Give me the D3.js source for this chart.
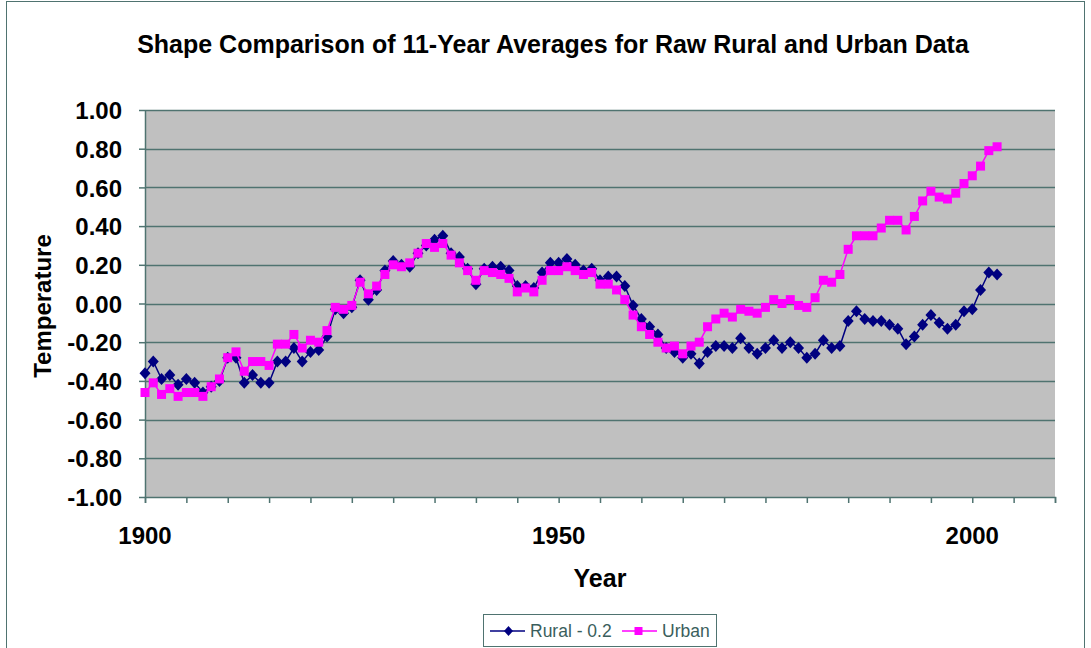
<!DOCTYPE html>
<html>
<head>
<meta charset="utf-8">
<script src="https://cdn.jsdelivr.net/npm/d3@7"></script>
<style>
  body { margin: 0; background: #fff; }
  text { font-family: "Liberation Sans", Arial, sans-serif; }
</style>
</head>
<body>
<svg id="chart" width="1091" height="648"></svg>
<script>
var firstYear = 1900;
var rural = [
  -0.36, -0.30, -0.39, -0.37, -0.42, -0.39, -0.41, -0.46, -0.43, -0.40,
  -0.28, -0.28, -0.41, -0.37, -0.41, -0.41, -0.30, -0.30, -0.23, -0.30,
  -0.25, -0.24, -0.17, -0.03, -0.05, -0.02, 0.12, 0.02, 0.07, 0.17,
  0.22, 0.20, 0.19, 0.26, 0.30, 0.33, 0.35, 0.26, 0.24, 0.18,
  0.10, 0.18, 0.19, 0.19, 0.17, 0.09, 0.09, 0.08, 0.16, 0.21,
  0.21, 0.23, 0.20, 0.17, 0.18, 0.12, 0.14, 0.14, 0.09, -0.01,
  -0.08, -0.12, -0.16, -0.23, -0.25, -0.28, -0.26, -0.31, -0.25, -0.22,
  -0.22, -0.23, -0.18, -0.23, -0.26, -0.23, -0.19, -0.23, -0.20, -0.23,
  -0.28, -0.26, -0.19, -0.23, -0.22, -0.09, -0.04, -0.08, -0.09, -0.09,
  -0.11, -0.13, -0.21, -0.17, -0.11, -0.06, -0.10, -0.13, -0.11, -0.04,
  -0.03, 0.07, 0.16, 0.15
];
var urban = [
  -0.46, -0.41, -0.47, -0.44, -0.48, -0.46, -0.46, -0.48, -0.43, -0.39,
  -0.28, -0.25, -0.35, -0.30, -0.30, -0.32, -0.21, -0.21, -0.16, -0.23,
  -0.19, -0.20, -0.14, -0.02, -0.03, -0.01, 0.11, 0.05, 0.09, 0.15,
  0.20, 0.19, 0.21, 0.26, 0.31, 0.29, 0.31, 0.25, 0.21, 0.17,
  0.12, 0.17, 0.16, 0.15, 0.13, 0.06, 0.08, 0.06, 0.12, 0.17,
  0.17, 0.19, 0.17, 0.15, 0.16, 0.10, 0.10, 0.07, 0.02, -0.06,
  -0.12, -0.16, -0.20, -0.23, -0.22, -0.26, -0.22, -0.20, -0.12, -0.08,
  -0.05, -0.07, -0.03, -0.04, -0.05, -0.02, 0.02, 0.00, 0.02, -0.01,
  -0.02, 0.03, 0.12, 0.11, 0.15, 0.28, 0.35, 0.35, 0.35, 0.39,
  0.43, 0.43, 0.38, 0.45, 0.53, 0.58, 0.55, 0.54, 0.57, 0.62,
  0.66, 0.71, 0.79, 0.81
];
var yTicks = [1.0, 0.8, 0.6, 0.4, 0.2, 0.0, -0.2, -0.4, -0.6, -0.8, -1.0];
var xLabels = [1900, 1950, 2000];
var xMinor = d3.range(1900, 2011, 5);
var seriesNames = ["Rural - 0.2", "Urban"];

var grid = "#4F7370";
var margin = {top: 110, right: 36, bottom: 151, left: 145},
    width = 1091 - margin.left - margin.right,
    height = 648 - margin.top - margin.bottom;

var svg = d3.select("#chart");

// outer chart border
svg.append("rect")
    .attr("x", 6.5).attr("y", 1.5)
    .attr("width", 1078).attr("height", 700)
    .attr("fill", "none")
    .attr("stroke", grid)
    .attr("stroke-width", 1);

svg.append("text")
    .attr("x", 553).attr("y", 53)
    .attr("text-anchor", "middle")
    .attr("font-weight", "bold")
    .attr("font-size", "25px")
    .text("Shape Comparison of 11-Year Averages for Raw Rural and Urban Data");

var g = svg.append("g")
    .attr("transform", "translate(" + margin.left + "," + margin.top + ")");

var x = d3.scaleLinear().domain([1900, 2010]).range([0, width]);
var y = d3.scaleLinear().domain([-1, 1]).range([height, 0]);

g.append("rect")
    .attr("width", width).attr("height", height)
    .attr("fill", "#C0C0C0");

// horizontal gridlines
g.selectAll(".grid").data(yTicks.filter(function(d){ return d > -1; }))
  .enter().append("line")
    .attr("x1", 0).attr("x2", width)
    .attr("y1", function(d){ return Math.round(y(d)) + 0.5; })
    .attr("y2", function(d){ return Math.round(y(d)) + 0.5; })
    .attr("stroke", grid)
    .attr("stroke-width", 1.5);

// y axis
var yAxis = g.append("g")
    .call(d3.axisLeft(y).tickValues(yTicks).tickSize(6).tickPadding(17));
yAxis.select(".domain").remove();
yAxis.selectAll("line").attr("stroke", grid).attr("stroke-width", 1.5);
yAxis.selectAll("text")
    .attr("font-weight", "bold")
    .attr("font-size", "24px")
    .attr("fill", "#000")
    .attr("dy", "0.36em")
    .text(function(d){ return d3.format(".2f")(d).replace("−", "-"); });

g.append("line")
    .attr("x1", 0.5).attr("x2", 0.5)
    .attr("y1", 0).attr("y2", height)
    .attr("stroke", grid).attr("stroke-width", 1.5);

// x axis
var xAxis = g.append("g")
    .attr("transform", "translate(0," + height + ")")
    .call(d3.axisBottom(x).tickValues(xMinor).tickFormat("").tickSize(6));
xAxis.select(".domain").attr("stroke", grid).attr("stroke-width", 1.5);
xAxis.selectAll("line").attr("stroke", grid).attr("stroke-width", 1.5);

g.selectAll(".xlab").data(xLabels)
  .enter().append("text")
    .attr("x", function(d){ return x(d); })
    .attr("y", height + 47)
    .attr("text-anchor", "middle")
    .attr("font-weight", "bold")
    .attr("font-size", "24px")
    .text(function(d){ return d; });

svg.append("text")
    .attr("x", 600).attr("y", 587)
    .attr("text-anchor", "middle")
    .attr("font-weight", "bold")
    .attr("font-size", "25px")
    .text("Year");

svg.append("text")
    .attr("transform", "translate(51,306) rotate(-90)")
    .attr("text-anchor", "middle")
    .attr("font-weight", "bold")
    .attr("font-size", "24px")
    .text("Temperature");

var line = d3.line()
    .x(function(d, i){ return x(firstYear + i); })
    .y(function(d){ return y(d); });

function diamondPath(w, h){
  return "M0," + (-h/2) + "L" + (w/2) + ",0L0," + (h/2) + "L" + (-w/2) + ",0Z";
}

g.append("path").datum(rural)
    .attr("d", line)
    .attr("fill", "none")
    .attr("stroke", "#000080")
    .attr("stroke-width", 1.5);
g.selectAll(".rpt").data(rural)
  .enter().append("path")
    .attr("d", diamondPath(11, 12))
    .attr("transform", function(d, i){ return "translate(" + x(firstYear + i) + "," + y(d) + ")"; })
    .attr("fill", "#000080");

g.append("path").datum(urban)
    .attr("d", line)
    .attr("fill", "none")
    .attr("stroke", "#FF00FF")
    .attr("stroke-width", 1.5);
g.selectAll(".upt").data(urban)
  .enter().append("rect")
    .attr("x", function(d, i){ return x(firstYear + i) - 4.5; })
    .attr("y", function(d){ return y(d) - 4.5; })
    .attr("width", 9).attr("height", 9)
    .attr("fill", "#FF00FF");

// legend
var leg = svg.append("g").attr("transform", "translate(483,614)");
leg.append("rect")
    .attr("x", 0.5).attr("y", 0.5)
    .attr("width", 233).attr("height", 32)
    .attr("fill", "#fff")
    .attr("stroke", grid);

leg.append("line").attr("x1", 7).attr("x2", 42).attr("y1", 17).attr("y2", 17)
    .attr("stroke", "#000080").attr("stroke-width", 1.5);
leg.append("path").attr("d", diamondPath(9, 10))
    .attr("transform", "translate(25.5,17)").attr("fill", "#000080");
leg.append("text").attr("x", 47).attr("y", 23)
    .attr("font-size", "17.5px").attr("fill", "#3A5E5C")
    .text(seriesNames[0]);

leg.append("line").attr("x1", 139).attr("x2", 174).attr("y1", 17).attr("y2", 17)
    .attr("stroke", "#FF00FF").attr("stroke-width", 1.5);
leg.append("rect").attr("x", 151.5).attr("y", 13).attr("width", 8).attr("height", 8)
    .attr("fill", "#FF00FF");
leg.append("text").attr("x", 179).attr("y", 23)
    .attr("font-size", "17.5px").attr("fill", "#3A5E5C")
    .text(seriesNames[1]);
</script>
</body>
</html>
